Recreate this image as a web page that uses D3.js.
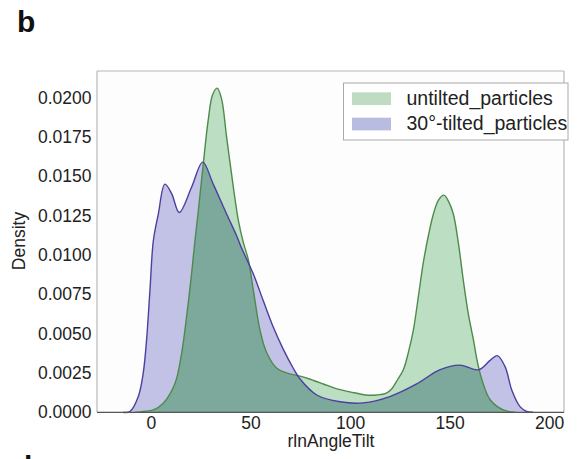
<!DOCTYPE html>
<html><head><meta charset="utf-8">
<script src="https://cdn.jsdelivr.net/npm/d3@7"></script>
<style>body{margin:0;background:#fff;}svg{display:block;font-family:"Liberation Sans",Arial,sans-serif;}</style>
</head><body>
<svg id="c" width="577" height="459"></svg>
<script>
// Data
const untiltedAngle = [-8,-5.5,1.2,6.2,12.1,15.4,17.9,20.4,22.1,23.8,26.3,28.8,31,33.3,35.5,38,41.4,43.9,46.4,48.9,51.4,54.8,58.1,63.2,68.2,74.9,80,86.6,93,100,108,113.4,118,121,124,126.8,129.5,131.8,134.5,136.8,139.5,141.9,144.5,147.2,149.5,151.9,154.5,156.9,159.5,162,164,166.2,170.4,177,183];
const untiltedDensity = [0,0.00003,0.00015,0.00057,0.00184,0.00375,0.00607,0.0088,0.0109,0.0128,0.0158,0.0186,0.0202,0.0206,0.0199,0.0175,0.0143,0.0122,0.0108,0.0097,0.0078,0.0052,0.0038,0.0028,0.0025,0.0023,0.0021,0.0018,0.0015,0.0013,0.0011,0.0011,0.0012,0.0015,0.0021,0.0027,0.0039,0.0052,0.0075,0.0095,0.0113,0.0126,0.0135,0.0138,0.0134,0.0126,0.0107,0.0084,0.0062,0.0046,0.0032,0.0021,0.0008,0.00015,0];
const tiltedAngle = [-14,-10.6,-6.4,-3.9,-2.2,-0.5,1.2,3.7,7.0,10.4,14.2,20.4,26.0,31.3,38,43.1,45.3,51.4,56.4,61.5,66.5,71.5,75,83.3,95,106.7,120,133.5,145,155.3,164.5,170.4,174,177.9,181.3,185.4,188.7,192];
const tiltedDensity = [0,0.00004,0.00099,0.00248,0.00459,0.00776,0.0109,0.0126,0.0145,0.0139,0.0127,0.0143,0.0159,0.0145,0.0126,0.0112,0.0105,0.0088,0.0071,0.0054,0.0040,0.0028,0.0021,0.0011,0.00067,0.0006,0.0010,0.0018,0.0027,0.0030,0.0027,0.0033,0.0036,0.0029,0.0014,0.00036,0.00005,0];
const seriesNames = ["untilted_particles","30°-tilted_particles"];
const xTicks = [0,50,100,150,200];
const yTicks = [0,0.0025,0.005,0.0075,0.01,0.0125,0.015,0.0175,0.02];

const svg = d3.select("#c");
const L=97, R=564, T=71, B=412.3;
const x = d3.scaleLinear().domain([-27.1,207.5]).range([L,R]);
const y = d3.scaleLinear().domain([0,0.02169]).range([B,T]);

svg.append("rect").attr("x",L).attr("y",T).attr("width",R-L).attr("height",B-T).attr("fill","#fcfdfc");

const area = d3.area().curve(d3.curveCatmullRom.alpha(0.5)).x(p=>x(p[0])).y0(y(0)).y1(p=>y(p[1]));
const line = d3.line().curve(d3.curveCatmullRom.alpha(0.5)).x(p=>x(p[0])).y(p=>y(p[1]));
const gPts = untiltedAngle.map((v,i)=>[v,untiltedDensity[i]]);
const tPts = tiltedAngle.map((v,i)=>[v,tiltedDensity[i]]);

const defs = svg.append("defs");
defs.append("clipPath").attr("id","tclip").append("path").attr("d",area(tPts));

const g = svg.append("g");
g.append("path").attr("d",area(tPts)).attr("fill","#c2c1e6");
g.append("path").attr("d",area(gPts)).attr("fill","#bcdec3");
g.append("path").attr("d",area(gPts)).attr("fill","#7ca99b").attr("clip-path","url(#tclip)");
g.append("path").attr("d",line(gPts)).attr("fill","none").attr("stroke","#4f8a4c").attr("stroke-width",1.4);
g.append("path").attr("d",line(tPts)).attr("fill","none").attr("stroke","#4d3f9f").attr("stroke-width",1.4);

// frame
svg.append("line").attr("x1",L).attr("x2",L).attr("y1",T).attr("y2",B).attr("stroke","#b8b8b8").attr("stroke-width",1.2);
svg.append("line").attr("x1",R).attr("x2",R).attr("y1",T).attr("y2",B).attr("stroke","#b8b8b8").attr("stroke-width",1.2);
svg.append("line").attr("x1",L).attr("x2",R).attr("y1",T).attr("y2",T).attr("stroke","#b8b8b8").attr("stroke-width",1.2);
svg.append("line").attr("x1",L).attr("x2",R).attr("y1",B).attr("y2",B).attr("stroke","#555").attr("stroke-width",1.2);

// axes
const xa = svg.append("g").attr("transform",`translate(0,${B})`).call(d3.axisBottom(x).tickValues(xTicks).tickSize(0).tickPadding(4).tickFormat(d3.format("d")));
xa.select(".domain").remove();
xa.selectAll("text").attr("font-size",17.5).attr("fill","#222").attr("font-family","Liberation Sans, Arial, sans-serif");
const ya = svg.append("g").attr("transform",`translate(${L},0)`).call(d3.axisLeft(y).tickValues(yTicks).tickSize(0).tickPadding(5.5).tickFormat(d3.format(".4f")));
ya.select(".domain").remove();
ya.selectAll("text").attr("font-size",17.5).attr("fill","#222").attr("font-family","Liberation Sans, Arial, sans-serif");

svg.append("text").attr("x",331).attr("y",447).attr("text-anchor","middle").attr("font-size",17.5).attr("fill","#222").text("rlnAngleTilt");
svg.append("text").attr("transform","translate(25,241) rotate(-90)").attr("text-anchor","middle").attr("font-size",17.5).attr("fill","#222").text("Density");

svg.append("text").attr("x",17).attr("y",32).attr("font-size",30).attr("font-weight","bold").attr("fill","#111").text("b");
svg.append("text").attr("x",14).attr("y",477).attr("font-size",30).attr("font-weight","bold").attr("fill","#111").text("d");

// legend
const lg = svg.append("g");
lg.append("rect").attr("x",343.5).attr("y",83).attr("width",224.5).attr("height",57).attr("fill","#fff").attr("stroke","#aaa").attr("stroke-width",1);
const legendFill=["#bfdcc2","#babbe0"];
seriesNames.forEach((n,i)=>{
  lg.append("rect").attr("x",352).attr("y",92.3+i*25.4).attr("width",39).attr("height",12.7).attr("fill",legendFill[i]);
  lg.append("text").attr("x",406.5).attr("y",105+i*25.4).attr("font-size",19.5).attr("fill","#222").text(n);
});
</script>
</body></html>
